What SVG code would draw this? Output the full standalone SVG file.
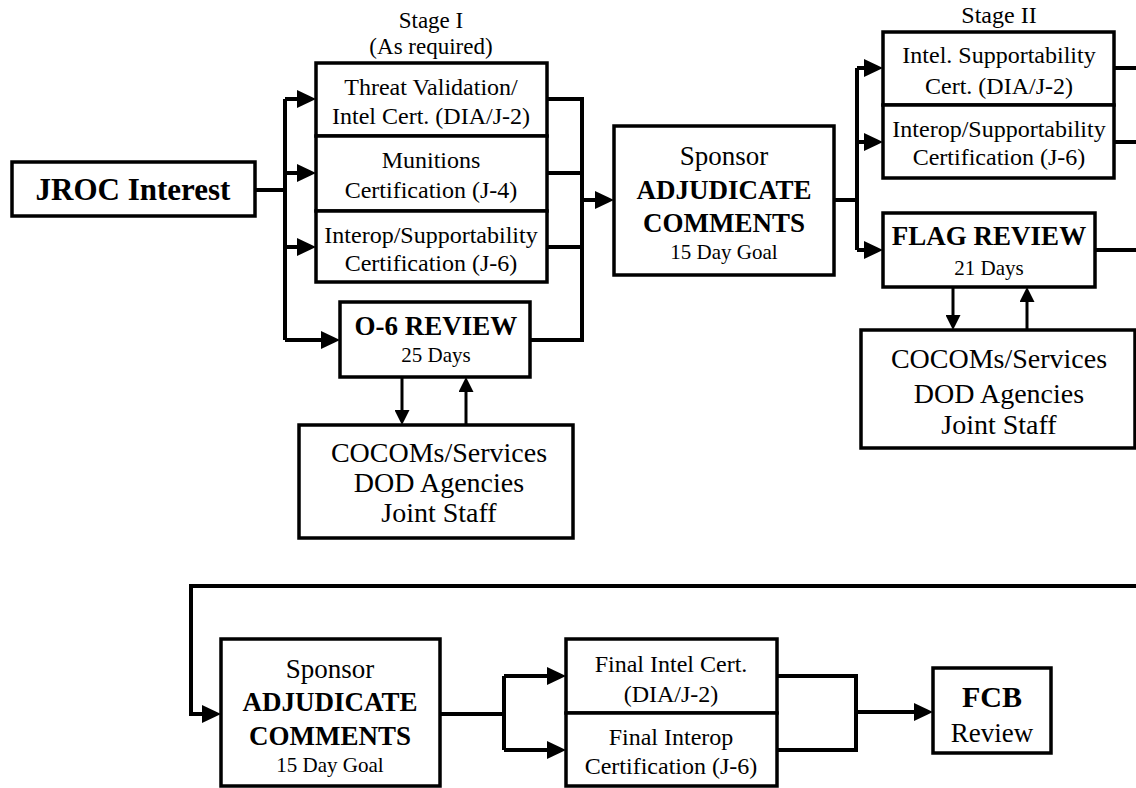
<svg xmlns="http://www.w3.org/2000/svg" width="1136" height="788" viewBox="0 0 1136 788">
<defs>
<marker id="arr" markerUnits="userSpaceOnUse" markerWidth="19" markerHeight="18" refX="9" refY="9" orient="auto">
<path d="M0,0 L19,9 L0,18 z" fill="#000"/>
</marker>
<marker id="arrs" markerUnits="userSpaceOnUse" markerWidth="15" markerHeight="15" refX="7" refY="7.5" orient="auto">
<path d="M0,0 L15,7.5 L0,15 z" fill="#000"/>
</marker>
</defs>
<style>
rect{fill:#fff;stroke:#000;stroke-width:3.5}
text{font-family:"Liberation Serif","Times New Roman",serif;fill:#000;text-anchor:middle}
.c{fill:none;stroke:#000;stroke-width:4}
.s{fill:none;stroke:#000;stroke-width:3}
.b{font-weight:bold}
.f23{font-size:23px}
.f24{font-size:24px}
.f21{font-size:21px}
.f27{font-size:27px}
.f28{font-size:28px}
</style>
<rect x="0" y="0" width="1136" height="788" style="fill:#fff;stroke:none"/>
<g id="connectors">
<polyline class="c" points="255,190 285,190"/>
<polyline class="c" points="285,99 285,340"/>
<polyline class="c" points="285,99 306,99" marker-end="url(#arr)"/>
<polyline class="c" points="285,173 306,173" marker-end="url(#arr)"/>
<polyline class="c" points="285,247 306,247" marker-end="url(#arr)"/>
<polyline class="c" points="285,340 330,340" marker-end="url(#arr)"/>
<polyline class="c" points="547,99 582,99 582,340 530,340"/>
<polyline class="c" points="547,173 582,173"/>
<polyline class="c" points="547,247 582,247"/>
<polyline class="c" points="582,200 604,200" marker-end="url(#arr)"/>
<polyline class="s" points="402,377 402,417" marker-end="url(#arrs)"/>
<polyline class="s" points="466,425 466,385" marker-end="url(#arrs)"/>
<polyline class="c" points="834,200 857,200"/>
<polyline class="c" points="857,68 857,250"/>
<polyline class="c" points="857,68 873,68" marker-end="url(#arr)"/>
<polyline class="c" points="857,142 873,142" marker-end="url(#arr)"/>
<polyline class="c" points="857,250 873,250" marker-end="url(#arr)"/>
<polyline class="c" points="1114,68 1136,68"/>
<polyline class="c" points="1114,142 1136,142"/>
<polyline class="c" points="1095,250 1136,250"/>
<polyline class="s" points="953,287 953,322" marker-end="url(#arrs)"/>
<polyline class="s" points="1027,330 1027,295" marker-end="url(#arrs)"/>
<polyline class="c" points="1136,586 191,586 191,714 211,714" marker-end="url(#arr)"/>
<polyline class="c" points="440,714 504,714"/>
<polyline class="c" points="504,676 504,750"/>
<polyline class="c" points="504,676 556,676" marker-end="url(#arr)"/>
<polyline class="c" points="504,750 556,750" marker-end="url(#arr)"/>
<polyline class="c" points="777,676 856,676 856,750 777,750"/>
<polyline class="c" points="856,712 923,712" marker-end="url(#arr)"/>
</g>
<g id="jroc">
<rect x="12" y="162" width="243" height="54"/>
<text x="133" y="200" class="b" style="font-size:31px">JROC Interest</text>
</g>
<g id="stage1-label">
<text x="431" y="28" class="f23">Stage I</text>
<text x="431" y="53.5" class="f23">(As required)</text>
</g>
<g id="threat">
<rect x="316" y="63" width="231" height="73"/>
<text x="431" y="95" class="f24">Threat Validation/</text>
<text x="431" y="124" class="f24">Intel Cert. (DIA/J-2)</text>
</g>
<g id="munitions">
<rect x="316" y="136" width="231" height="75"/>
<text x="431" y="168" class="f24">Munitions</text>
<text x="431" y="198" class="f24">Certification (J-4)</text>
</g>
<g id="interop1">
<rect x="316" y="211" width="231" height="71"/>
<text x="431" y="243" class="f24">Interop/Supportability</text>
<text x="431" y="271" class="f24">Certification (J-6)</text>
</g>
<g id="o6">
<rect x="340" y="302" width="190" height="75"/>
<text x="436" y="335" class="b f27">O-6 REVIEW</text>
<text x="436" y="362" class="f21">25 Days</text>
</g>
<g id="cocoms1">
<rect x="299" y="425" width="274" height="113"/>
<text x="439" y="462" class="f28">COCOMs/Services</text>
<text x="439" y="492" class="f28">DOD Agencies</text>
<text x="439" y="522" class="f28">Joint Staff</text>
</g>
<g id="sponsor1">
<rect x="614" y="126" width="220" height="149"/>
<text x="724" y="165" class="f27">Sponsor</text>
<text x="724" y="199" class="b f27">ADJUDICATE</text>
<text x="724" y="232" class="b f27">COMMENTS</text>
<text x="724" y="259" class="f21">15 Day Goal</text>
</g>
<g id="stage2-label">
<text x="999" y="23" class="f24">Stage II</text>
</g>
<g id="intel2">
<rect x="883" y="32" width="231" height="73"/>
<text x="999" y="63" class="f24">Intel. Supportability</text>
<text x="999" y="94" class="f24">Cert. (DIA/J-2)</text>
</g>
<g id="interop2">
<rect x="883" y="105" width="231" height="73"/>
<text x="999" y="137" class="f24">Interop/Supportability</text>
<text x="999" y="165" class="f24">Certification (J-6)</text>
</g>
<g id="flag">
<rect x="883" y="213" width="212" height="74"/>
<text x="989" y="245" class="b f27">FLAG REVIEW</text>
<text x="989" y="275" class="f21">21 Days</text>
</g>
<g id="cocoms2">
<rect x="861" y="330" width="274" height="118"/>
<text x="999" y="368" class="f28">COCOMs/Services</text>
<text x="999" y="403" class="f28">DOD Agencies</text>
<text x="999" y="434" class="f28">Joint Staff</text>
</g>
<g id="sponsor2">
<rect x="221" y="639" width="219" height="147"/>
<text x="330" y="678" class="f27">Sponsor</text>
<text x="330" y="711" class="b f27">ADJUDICATE</text>
<text x="330" y="745" class="b f27">COMMENTS</text>
<text x="330" y="772" class="f21">15 Day Goal</text>
</g>
<g id="finalintel">
<rect x="566" y="639" width="211" height="74"/>
<text x="671" y="672" class="f24">Final Intel Cert.</text>
<text x="671" y="702" class="f24">(DIA/J-2)</text>
</g>
<g id="finalinterop">
<rect x="566" y="713" width="211" height="73"/>
<text x="671" y="745" class="f24">Final Interop</text>
<text x="671" y="774" class="f24">Certification (J-6)</text>
</g>
<g id="fcb">
<rect x="933" y="668" width="118" height="85"/>
<text x="992" y="707" class="b" style="font-size:30px">FCB</text>
<text x="992" y="742" style="font-size:27px">Review</text>
</g>
</svg>
